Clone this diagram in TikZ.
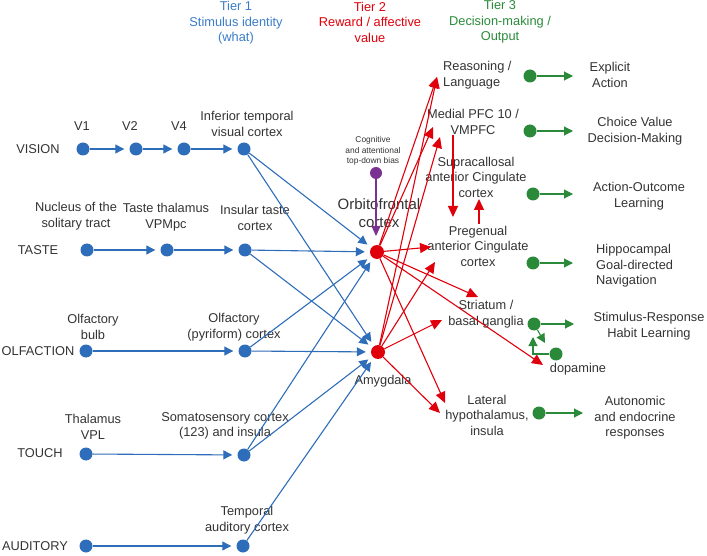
\documentclass[tikz,border=0pt]{standalone}
\usepackage{fontspec}
\setmainfont{Liberation Sans}
\usetikzlibrary{arrows.meta}
\definecolor{bl}{HTML}{2E6DB9}
\definecolor{blt}{HTML}{3A7CC8}
\definecolor{rd}{HTML}{E0000B}
\definecolor{gr}{HTML}{2A8A3A}
\definecolor{pu}{HTML}{7A3192}
\definecolor{tx}{HTML}{333333}
\begin{document}
\begin{tikzpicture}[x=1pt,y=-1pt,
  txt/.style={font=\fontsize{12.8}{15.5}\selectfont, text=tx, align=center, inner sep=0pt},
  small/.style={font=\fontsize{8.4}{10.8}\selectfont, text=tx, align=center, inner sep=0pt},
  big/.style={font=\fontsize{15}{18}\selectfont, text=tx, align=center, inner sep=0pt},
  bdot/.style={circle, fill=bl, inner sep=0pt, minimum size=13pt},
  rdot/.style={circle, fill=rd, inner sep=0pt, minimum size=14pt},
  gdot/.style={circle, fill=gr, inner sep=0pt, minimum size=13pt},
  pdot/.style={circle, fill=pu, inner sep=0pt, minimum size=12pt},
  barr/.style={draw=bl, line width=1.1pt, -{Triangle[length=9pt,width=9pt]}, shorten >=5pt},
  rarr/.style={draw=rd, line width=1.1pt, -{Triangle[length=11pt,width=10pt]}},
  garr/.style={draw=gr, line width=1.1pt, -{Triangle[length=9pt,width=9pt]}},
  parr/.style={draw=pu, line width=1.1pt, -{Triangle[length=10pt,width=9pt]}}
]
\useasboundingbox (0,0) rectangle (707,556);

% headers
\node[txt, text=blt] (t1) at (236,23) {Tier 1\\Stimulus identity\\(what)};
\node[txt, text=rd] (t2) at (370,22) {Tier 2\\Reward / affective\\value};
\node[txt, text=gr] (t3) at (500,22) {Tier 3\\Decision-making /\\Output};

% row labels
\node[txt] (lvis) at (38,149) {VISION};
\node[txt] (ltas) at (38,250) {TASTE};
\node[txt] (lolf) at (38,351) {OLFACTION};
\node[txt] (ltou) at (40,453) {TOUCH};
\node[txt] (laud) at (35,546) {AUDITORY};

% tier 1 nodes
\node[bdot] (v1) at (83,149) {};
\node[bdot] (v2) at (136,149) {};
\node[bdot] (v4) at (184,149) {};
\node[bdot] (it) at (244,149) {};
\node[bdot] (nts) at (87,250) {};
\node[bdot] (tth) at (167,250) {};
\node[bdot] (ins) at (245,250) {};
\node[bdot] (ob) at (86,351) {};
\node[bdot] (pyr) at (245,351) {};
\node[bdot] (vpl) at (86,454) {};
\node[bdot] (som) at (244,455) {};
\node[bdot] (aud) at (86,546) {};
\node[bdot] (tac) at (243,546) {};

\node[txt] (lv1) at (82,126) {V1};
\node[txt] (lv2) at (130,126) {V2};
\node[txt] (lv4) at (179,126) {V4};
\node[txt] (lit) at (247,124) {Inferior temporal\\visual cortex};
\node[txt] (lnts) at (76,216) {Nucleus of the\\solitary tract};
\node[txt] (ltth) at (166,217) {Taste thalamus\\VPMpc};
\node[txt] (lins) at (255,218) {Insular taste\\cortex};
\node[txt] (lob) at (93,327) {Olfactory\\bulb};
\node[txt] (lpyr) at (234,327) {Olfactory\\(pyriform) cortex};
\node[txt] (lvpl) at (93,427) {Thalamus\\VPL};
\node[txt] (lsom) at (225,426) {Somatosensory cortex\\(123) and insula};
\node[txt] (ltac) at (247,520) {Temporal\\auditory cortex};

% tier 2
\node[rdot] (ofc) at (377,252) {};
\node[rdot] (amy) at (378,352) {};
\node[pdot] (cog) at (376,173) {};
\node[small] (lcog) at (373,151) {Cognitive\\and attentional\\top-down bias};
\node[big] (lofc) at (379,213) {Orbitofrontal\\cortex};
\node[txt] (lamy) at (383,381) {Amygdala};

% tier 3 labels
\node[txt, anchor=west, align=left] (lreas) at (443,75) {Reasoning /\\Language};
\node[txt] (lmpfc) at (473,122) {Medial PFC 10 /\\VMPFC};
\node[txt] (lsup) at (476,177) {Supracallosal\\anterior Cingulate\\cortex};
\node[txt] (lpre) at (478,246) {Pregenual\\anterior Cingulate\\cortex};
\node[txt] (lstr) at (486,314) {Striatum /\\basal ganglia};
\node[txt] (llh) at (487,415) {Lateral\\hypothalamus,\\insula};

\node[gdot] (g1) at (530,76) {};
\node[gdot] (g2) at (530,131) {};
\node[gdot] (g3) at (533,194) {};
\node[gdot] (g4) at (533,263) {};
\node[gdot] (g5) at (534,324) {};
\node[gdot] (gd) at (556,354) {};
\node[gdot] (g6) at (539,413) {};

\node[txt] (o1) at (610,75) {Explicit\\Action};
\node[txt] (o2) at (635,131) {Choice Value\\Decision-Making};
\node[txt] (o3) at (639,196) {Action-Outcome\\Learning};
\node[txt, anchor=west, align=left] (o4) at (596,266) {Hippocampal\\Goal-directed\\Navigation};
\node[txt] (o5) at (649,326) {Stimulus-Response\\Habit Learning};
\node[txt] (ldopa) at (578,369) {dopamine};
\node[txt] (o6) at (635,418) {Autonomic\\and endocrine\\responses};

% coordinates for arrow ends
\coordinate (reasIn) at (437,77);
\coordinate (mpfcInA) at (433,127);
\coordinate (mpfcInB) at (440,137);
\coordinate (preInA) at (431,247);
\coordinate (preInB) at (435,262);
\coordinate (strInA) at (478,297);
\coordinate (strInB) at (442,320);
\coordinate (dopIn) at (543,365);
\coordinate (lhInA) at (445,403);
\coordinate (lhInB) at (440,413);
\coordinate (mpfcDownS) at (453,135);
\coordinate (mpfcDownE) at (453,217);
\coordinate (preUpS) at (479,224);
\coordinate (preUpE) at (479,199);
\coordinate (cogTip) at (376,236);
\coordinate (e1) at (573,76);
\coordinate (e2) at (573,131);
\coordinate (e3) at (573,194);
\coordinate (e4) at (573,263);
\coordinate (e5) at (574,324);
\coordinate (e6) at (583,413);
\coordinate (strDop) at (545,343);
\coordinate (dopCorner) at (533,354);
\coordinate (dopTip) at (533,337);

% blue connectors
\draw[barr] (v1) -- (v2);
\draw[barr] (v2) -- (v4);
\draw[barr] (v4) -- (it);
\draw[barr] (nts) -- (tth);
\draw[barr] (tth) -- (ins);
\draw[barr] (ob) -- (pyr);
\draw[barr] (vpl) -- (som);
\draw[barr] (aud) -- (tac);
\draw[barr] (it) -- (ofc);
\draw[barr] (it) -- (amy);
\draw[barr] (ins) -- (ofc);
\draw[barr] (ins) -- (amy);
\draw[barr] (pyr) -- (ofc);
\draw[barr] (pyr) -- (amy);
\draw[barr] (som) -- (ofc);
\draw[barr] (som) -- (amy);
\draw[barr] (tac) -- (amy);

% purple
\draw[parr] (cog) -- (cogTip);

% red connectors
\draw[rarr] (ofc) -- (reasIn);
\draw[rarr] (amy) -- (reasIn);
\draw[rarr] (ofc) -- (mpfcInA);
\draw[rarr] (amy) -- (mpfcInB);
\draw[rarr] (ofc) -- (preInA);
\draw[rarr] (amy) -- (preInB);
\draw[rarr] (ofc) -- (strInA);
\draw[rarr] (amy) -- (strInB);
\draw[rarr] (ofc) -- (dopIn);
\draw[rarr] (ofc) -- (lhInA);
\draw[rarr] (amy) -- (lhInB);
\draw[rarr] (mpfcDownS) -- (mpfcDownE);
\draw[rarr] (preUpS) -- (preUpE);

% green connectors
\draw[garr] (g1) -- (e1);
\draw[garr] (g2) -- (e2);
\draw[garr] (g3) -- (e3);
\draw[garr] (g4) -- (e4);
\draw[garr] (g5) -- (e5);
\draw[garr] (g6) -- (e6);
\draw[garr] (g5) -- (strDop);
\draw[garr] (gd) -- (dopCorner) -- (dopTip);
\end{tikzpicture}
\end{document}
